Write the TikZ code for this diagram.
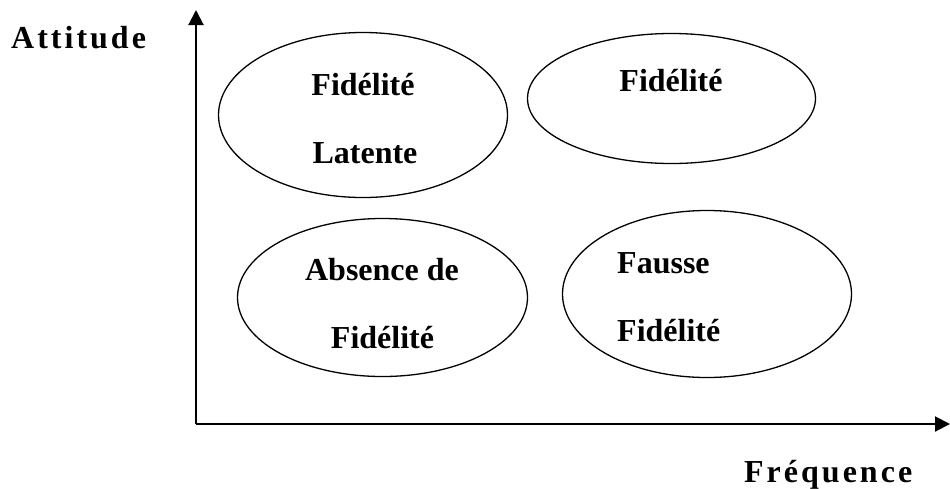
\documentclass[tikz,border=0pt]{standalone}
\usepackage{fontspec}
\setmainfont{Liberation Serif}
\newfontfamily\spacedfont[LetterSpace=9.4]{Liberation Serif}
\usetikzlibrary{shapes.geometric,arrows.meta}
\begin{document}
\begin{tikzpicture}[x=1pt,y=-1pt,
  axisline/.style={line width=2pt,-{Triangle[length=15pt,width=15pt]}},
  oval/.style={ellipse,draw,line width=1.3pt,inner sep=0pt,outer sep=0pt},
  lbl/.style={font=\fontsize{32}{38}\selectfont\bfseries,inner sep=0pt,anchor=base},
  axlbl/.style={font=\fontsize{32}{38}\spacedfont\bfseries,inner sep=0pt,anchor=base west}]
\useasboundingbox (0,0) rectangle (950,488);
% axes
\coordinate (origin) at (196,424);
\coordinate (ytip) at (196,10);
\coordinate (xtip) at (950,424);
\draw[axisline] (origin) -- (ytip);
\draw[axisline] (origin) -- (xtip);
\node[axlbl] (attitude) at (11,48) {Attitude};
\node[axlbl] (frequence) at (744,482) {Fréquence};
% ellipses
\node[oval,minimum width=289pt,minimum height=165pt] (e1) at (363,115) {};
\node[oval,minimum width=288pt,minimum height=130pt] (e2) at (671.5,98.5) {};
\node[oval,minimum width=290pt,minimum height=158pt] (e3) at (382.5,297.5) {};
\node[oval,minimum width=289pt,minimum height=167pt] (e4) at (707,294) {};
% texts
\node[lbl] (t1a) at (363,95) {Fidélité};
\node[lbl] (t1b) at (365,163) {Latente};
\node[lbl] (t2) at (671,91) {Fidélité};
\node[lbl] (t3a) at (382,280) {Absence de};
\node[lbl] (t3b) at (382.5,348) {Fidélité};
\node[lbl,anchor=base west] (t4a) at (617,273) {Fausse};
\node[lbl,anchor=base west] (t4b) at (617,341) {Fidélité};
\end{tikzpicture}
\end{document}
